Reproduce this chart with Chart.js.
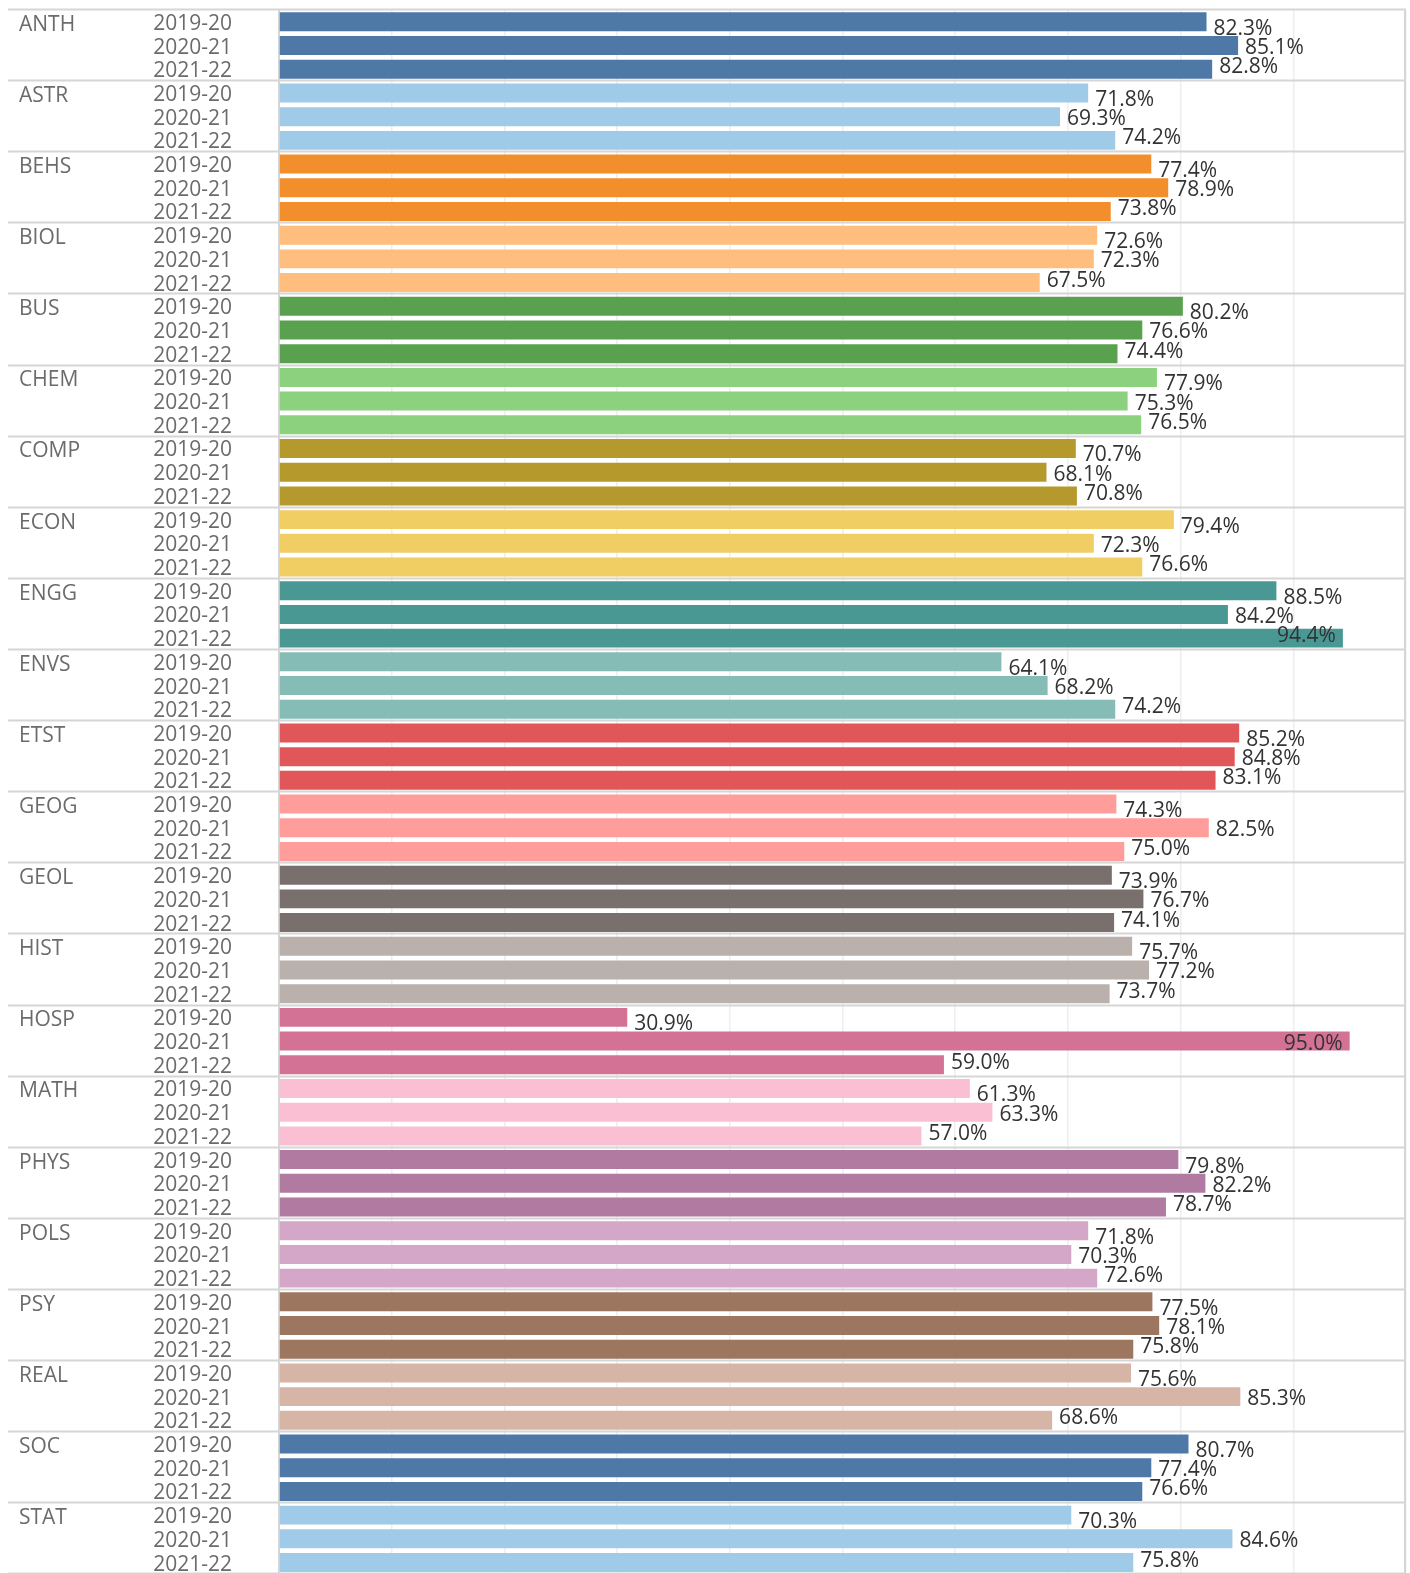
<!DOCTYPE html>
<html>
<head>
<meta charset="utf-8">
<script src="https://cdn.jsdelivr.net/npm/chart.js@4.4.1/dist/chart.umd.min.js"></script>
<style>
  html, body { margin: 0; padding: 0; background: #ffffff; overflow: hidden; }
  #wrap { width: 1410px; height: 1573px; overflow: hidden; }
</style>
</head>
<body>
<div id="wrap"><canvas id="c" width="1410" height="1577"></canvas></div>
<script>
const departments = ['ANTH','ASTR','BEHS','BIOL','BUS','CHEM','COMP','ECON','ENGG','ENVS','ETST','GEOG','GEOL','HIST','HOSP','MATH','PHYS','POLS','PSY','REAL','SOC','STAT'];
const years = ['2019-20','2020-21','2021-22'];
const rate2019_20 = [82.3,71.8,77.4,72.6,80.2,77.9,70.7,79.4,88.5,64.1,85.2,74.3,73.9,75.7,30.9,61.3,79.8,71.8,77.5,75.6,80.7,70.3];
const rate2020_21 = [85.1,69.3,78.9,72.3,76.6,75.3,68.1,72.3,84.2,68.2,84.8,82.5,76.7,77.2,95.0,63.3,82.2,70.3,78.1,85.3,77.4,84.6];
const rate2021_22 = [82.8,74.2,73.8,67.5,74.4,76.5,70.8,76.6,94.4,74.2,83.1,75.0,74.1,73.7,59.0,57.0,78.7,72.6,75.8,68.6,76.6,75.8];
const deptColors = ['#4E79A7','#A0CBE8','#F28E2B','#FFBE7D','#59A14F','#8CD17D','#B6992D','#F1CE63','#499894','#86BCB6','#E15759','#FF9D9A','#79706E','#BAB0AC','#D37295','#FABFD2','#B07AA1','#D4A6C8','#9D7660','#D7B5A6','#4E79A7','#A0CBE8'];
const axisTicks = [0,10,20,30,40,50,60,70,80,90,100];

const yearSeries = [rate2019_20, rate2020_21, rate2021_22];
const rowLabels = [], rowValues = [], rowColors = [];
departments.forEach((d, i) => {
  years.forEach((y, j) => {
    rowLabels.push(y);
    rowValues.push(yearSeries[j][i]);
    rowColors.push(deptColors[i]);
  });
});

const FONT = '"Open Sans", "Noto Sans", sans-serif';
const FONT_SIZE = 21;
const SEP_COLOR = '#d6d6d6';

const tableauPlugin = {
  id: 'tableauDecor',
  afterDatasetsDraw(chart) {
    const ctx = chart.ctx;
    const yScale = chart.scales.y;
    const ca = chart.chartArea;
    const rowH = (ca.bottom - ca.top) / rowLabels.length;
    ctx.save();
    ctx.strokeStyle = SEP_COLOR;
    ctx.lineWidth = 2;
    for (let i = 0; i <= departments.length; i++) {
      const y = Math.round(ca.top + i * 3 * rowH) - 0.5;
      ctx.beginPath();
      ctx.moveTo(8, y);
      ctx.lineTo(1406, y);
      ctx.stroke();
    }
    ctx.beginPath();
    ctx.moveTo(1405, ca.top);
    ctx.lineTo(1405, ca.bottom);
    ctx.stroke();
    ctx.fillStyle = '#6b6b6b';
    ctx.font = FONT_SIZE + 'px ' + FONT;
    ctx.textAlign = 'left';
    ctx.textBaseline = 'middle';
    departments.forEach((d, i) => {
      const y = yScale.getPixelForValue(i * 3);
      ctx.fillText(d, 19, y + 3);
    });
    const meta = chart.getDatasetMeta(0);
    ctx.fillStyle = '#333333';
    const offsets = [7, 2.5, -2];
    meta.data.forEach((bar, idx) => {
      const v = rowValues[idx];
      const txt = v.toFixed(1) + '%';
      const w = ctx.measureText(txt).width;
      const y = bar.y + offsets[idx % 3];
      if (bar.x + 7 + w > ca.right - 2) {
        ctx.textAlign = 'right';
        ctx.fillText(txt, bar.x - 7, y);
      } else {
        ctx.textAlign = 'left';
        ctx.fillText(txt, bar.x + 7, y);
      }
    });
    ctx.restore();
  }
};

new Chart(document.getElementById('c'), {
  type: 'bar',
  data: {
    labels: rowLabels,
    datasets: [{
      data: rowValues,
      backgroundColor: rowColors,
      borderWidth: 0,
      categoryPercentage: 1.0,
      barPercentage: 0.8
    }]
  },
  options: {
    indexAxis: 'y',
    responsive: false,
    animation: false,
    devicePixelRatio: 1,
    layout: { padding: { top: 10, right: 4, bottom: 2.6, left: 0 } },
    plugins: { legend: { display: false }, tooltip: { enabled: false } },
    scales: {
      x: {
        type: 'linear',
        min: axisTicks[0],
        max: axisTicks[axisTicks.length - 1],
        afterBuildTicks(scale) { scale.ticks = axisTicks.map(v => ({ value: v })); },
        afterFit(scale) { scale.height = 0; scale.paddingLeft = 0; scale.paddingRight = 0; },
        ticks: { display: false },
        grid: { color: '#eeeeee', lineWidth: 1.5, drawTicks: false },
        border: { display: false }
      },
      y: {
        afterFit(scale) { scale.width = 279; scale.paddingTop = 0; scale.paddingBottom = 0; },
        ticks: {
          color: '#6b6b6b',
          padding: 47,
          labelOffset: 2,
          font: { family: FONT, size: FONT_SIZE },
          autoSkip: false
        },
        grid: { display: true, drawOnChartArea: false, drawTicks: false },
        border: { display: true, color: SEP_COLOR, width: 2 }
      }
    }
  },
  plugins: [tableauPlugin]
});
</script>
</body>
</html>
